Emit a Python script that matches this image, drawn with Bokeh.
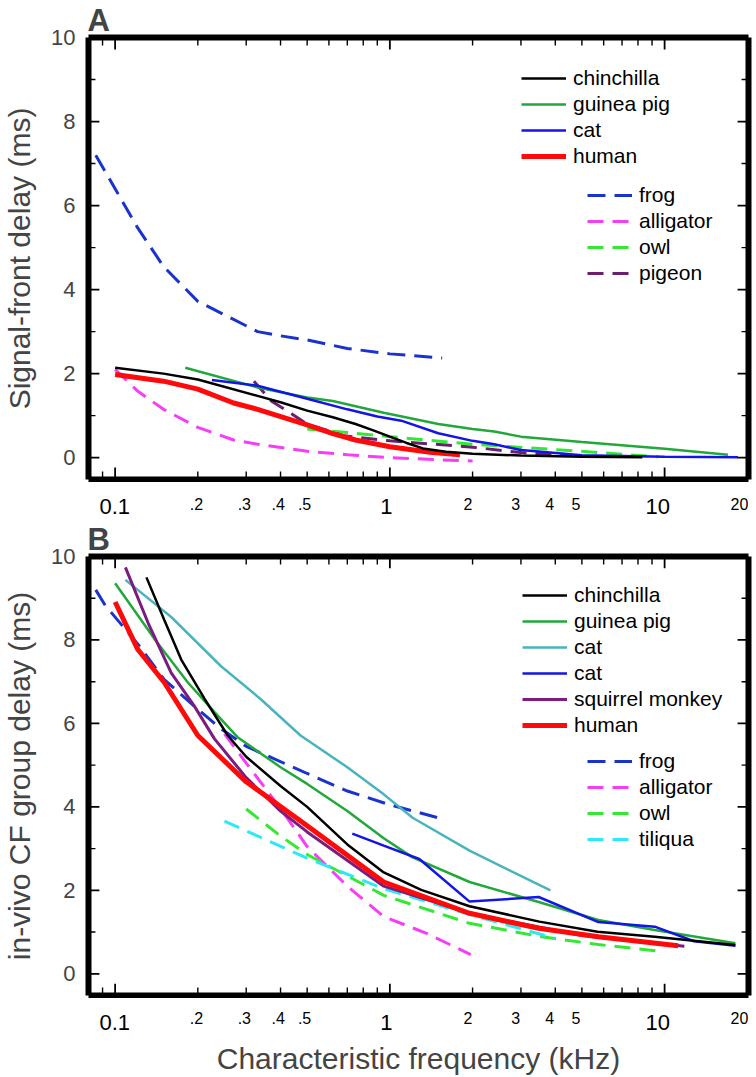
import math
from bokeh.plotting import figure
from bokeh.models import (Range1d, LogAxis, LinearAxis, FixedTicker, Legend, LegendItem,
                          CustomJSTickFormatter)
from bokeh.core.properties import value
from bokeh.layouts import column
from bokeh.embed import file_html
from bokeh.resources import INLINE

FONT = "Liberation Sans"
NAN = float("nan")

# ---------------- axis ranges / ticks / tick labels ----------------
X_LO, X_HI = 0.08, 20.2
Y_LO, Y_HI = -0.52, 10.0
X_MAJOR = [0.1, 1, 10]
X_MINOR = [0.09, 0.2, 0.3, 0.4, 0.5, 0.6, 0.7, 0.8, 0.9, 2, 3, 4, 5, 6, 7, 8, 9, 20]
X_BIG_TICKS = [0.1, 1, 10]
X_BIG_LABELS = ["0.1", "1", "10"]
X_SMALL_TICKS = [0.2, 0.3, 0.4, 0.5, 2, 3, 4, 5, 20]
X_SMALL_LABELS = [".2", ".3", ".4", ".5", "2", "3", "4", "5", "20"]
Y_MAJOR = [0, 2, 4, 6, 8, 10]
Y_MINOR = [1, 3, 5, 7, 9]

# ---------------- panel A: signal-front delay (ms) vs CF (kHz) ----------------
A_CHIN_F = [0.1, 0.15, 0.2, 0.33, 0.4, 0.5, 0.62, 0.75, 0.87, 1.0, 1.15, 1.32, 1.6, 2.0, 3.0, 5.0, 8.3]
A_CHIN_D = [2.14, 2.0, 1.86, 1.47, 1.32, 1.12, 0.96, 0.8, 0.65, 0.5, 0.35, 0.22, 0.14, 0.09, 0.05, 0.02, 0.01]
A_GP_F = [0.18, 0.33, 0.5, 0.62, 0.95, 1.5, 2.0, 2.4, 3.0, 5.0, 10.0, 17.0]
A_GP_D = [2.14, 1.67, 1.43, 1.35, 1.07, 0.8, 0.68, 0.62, 0.5, 0.37, 0.21, 0.07]
A_CAT_F = [0.225, 0.33, 0.5, 0.7, 0.9, 1.1, 1.5, 2.0, 2.4, 3.0, 5.0, 10.0, 18.5]
A_CAT_D = [1.85, 1.71, 1.4, 1.15, 0.98, 0.88, 0.58, 0.4, 0.32, 0.18, 0.06, 0.02, 0.01]
A_HUM_F = [0.1, 0.15, 0.2, 0.27, 0.33, 0.5, 0.62, 0.75, 1.0, 1.4, 1.8]
A_HUM_D = [1.98, 1.82, 1.63, 1.3, 1.15, 0.78, 0.57, 0.42, 0.26, 0.13, 0.07]
A_FROG_F = [0.085, 0.1, 0.12, 0.15, 0.2, 0.25, 0.33, 0.4, 0.5, 0.7, 1.0, 1.55]
A_FROG_D = [7.2, 6.4, 5.5, 4.55, 3.72, 3.4, 3.0, 2.9, 2.8, 2.6, 2.47, 2.37]
A_ALL_F = [0.1, 0.12, 0.15, 0.2, 0.27, 0.33, 0.5, 0.7, 1.0, 1.5, 2.0]
A_ALL_D = [2.1, 1.6, 1.15, 0.72, 0.42, 0.32, 0.15, 0.07, 0.0, -0.05, -0.08]
A_OWL_F = [0.5, 0.7, 1.0, 2.0, 4.5, 9.5]
A_OWL_D = [0.68, 0.6, 0.5, 0.32, 0.17, 0.02]
A_PIG_F = [0.32, 0.37, 0.44, 0.5, 0.68, 1.0, 2.0, 3.0, 4.6]
A_PIG_D = [1.82, 1.35, 1.04, 0.8, 0.52, 0.4, 0.25, 0.12, 0.05]

# ---------------- panel B: in-vivo CF group delay (ms) vs CF (kHz) ----------------
B_CHIN_F = [0.13, 0.151, 0.174, 0.212, 0.257, 0.3, 0.4, 0.5, 0.7, 0.95, 1.3, 1.95, 3.5, 5.7, 9.2, 18.1]
B_CHIN_D = [9.5, 8.48, 7.53, 6.58, 5.71, 5.2, 4.5, 4.0, 3.1, 2.43, 2.01, 1.62, 1.25, 1.01, 0.89, 0.69]
B_GP_F = [0.1, 0.14, 0.184, 0.23, 0.279, 0.4, 0.5, 0.7, 0.95, 1.21, 1.95, 3.48, 5.74, 9.2, 18.1]
B_GP_D = [9.36, 8.0, 6.98, 6.27, 5.67, 4.95, 4.55, 3.9, 3.25, 2.79, 2.2, 1.72, 1.29, 1.05, 0.73]
B_CAT1_F = [0.109, 0.16, 0.243, 0.339, 0.473, 0.7, 0.95, 1.21, 1.95, 3.84]
B_CAT1_D = [9.44, 8.55, 7.37, 6.58, 5.71, 4.95, 4.3, 3.74, 2.95, 2.0]
B_CAT2_F = [0.73, 0.95, 1.28, 1.95, 3.48, 5.74, 9.2, 12.8, 18.1]
B_CAT2_D = [3.36, 3.07, 2.75, 1.73, 1.84, 1.24, 1.13, 0.78, 0.67]
B_SM_F = [0.109, 0.132, 0.16, 0.194, 0.23, 0.3, 0.4, 0.5, 0.95, 2.0, 5.0, 11.8]
B_SM_D = [9.74, 8.4, 7.21, 6.42, 5.63, 4.7, 3.9, 3.4, 2.1, 1.43, 0.92, 0.66]
B_HUM_F = [0.1, 0.121, 0.151, 0.2, 0.3, 0.5, 0.95, 1.95, 3.48, 5.74, 11.2]
B_HUM_D = [8.91, 7.77, 6.98, 5.71, 4.6, 3.55, 2.2, 1.45, 1.09, 0.89, 0.67]
B_FROG_F = [0.085, 0.092, 0.121, 0.151, 0.2, 0.243, 0.3, 0.5, 0.7, 1.0, 1.58]
B_FROG_D = [9.2, 8.83, 7.9, 7.05, 6.34, 5.87, 5.45, 4.8, 4.38, 4.05, 3.7]
B_ALL_F = [0.25, 0.3, 0.4, 0.5, 0.7, 0.95, 1.36, 1.97]
B_ALL_D = [5.75, 5.05, 3.96, 3.05, 2.1, 1.37, 0.97, 0.46]
B_OWL_F = [0.3, 0.4, 0.5, 0.95, 1.95, 3.48, 5.74, 9.6]
B_OWL_D = [3.95, 3.3, 2.86, 1.88, 1.21, 0.9, 0.7, 0.54]
B_TIL_F = [0.25, 0.5, 0.95, 2.0, 4.0]
B_TIL_D = [3.66, 2.77, 2.04, 1.4, 0.85]

C_BLACK = "#000000"
C_GP = "#22a83a"
C_CAT = "#1414e6"
C_HUM = "#ff0a0a"
C_FROG = "#1a33cc"
C_ALL = "#f53ef5"
C_OWL = "#33e833"
C_PIG = "#6a1f70"
C_TEAL = "#4ab3bd"
C_SM = "#7b1c80"
C_TIL = "#2ee8f5"

FRAME_W, FRAME_H = 665, 444
PX_PER_DECADE = FRAME_W / (math.log10(X_HI) - math.log10(X_LO))
PX_PER_Y = FRAME_H / (Y_HI - Y_LO)
X_HI_EXT = 10 ** (math.log10(X_HI) + 8 / PX_PER_DECADE)   # strip frames run to the page edge


def frame_axis(ax):
    ax.axis_line_color = "black"
    ax.axis_line_width = 6
    ax.major_tick_in = 0
    ax.major_tick_out = 0
    ax.minor_tick_in = 0
    ax.minor_tick_out = 0
    ax.major_tick_line_color = None
    ax.minor_tick_line_color = None


def blank_labels(ax):
    ax.formatter = CustomJSTickFormatter(code="return '';")
    ax.major_label_text_font_size = "0px"
    ax.major_label_standoff = 0


def inward_ticks(p, ticks, side, length_px, width):
    """Tick marks pointing into the frame, one broken polyline per side."""
    xs, ys = [], []
    if side in ("bottom", "top"):
        y0 = Y_LO if side == "bottom" else Y_HI
        y1 = y0 + length_px / PX_PER_Y * (1 if side == "bottom" else -1)
        for t in ticks:
            xs += [t, t, NAN]
            ys += [y0, y1, NAN]
    else:
        x0 = X_LO if side == "left" else X_HI
        f = 10 ** (length_px / PX_PER_DECADE)
        x1 = x0 * f if side == "left" else x0 / f
        for t in ticks:
            xs += [x0, x1, NAN]
            ys += [t, t, NAN]
    p.line(xs, ys, line_color="black", line_width=width, line_cap="butt")


def make_panel(height, top, letter, ylabel):
    p = figure(width=756, height=height, x_axis_type="log", title=letter,
               x_range=Range1d(X_LO, X_HI), y_range=Range1d(Y_LO, Y_HI),
               output_backend="svg", toolbar_location=None,
               min_border_left=83, min_border_right=8,
               min_border_top=top, min_border_bottom=3)
    p.grid.visible = False
    p.outline_line_color = None
    p.background_fill_color = None
    p.border_fill_color = None

    p.title.text_font = FONT
    p.title.text_font_size = "31px"
    p.title.text_font_style = "bold"
    p.title.align = "left"
    p.title.standoff = 0
    p.title.offset = -1

    xa = p.xaxis[0]
    xa.ticker = FixedTicker(ticks=X_MAJOR, minor_ticks=X_MINOR)
    frame_axis(xa)
    blank_labels(xa)

    ya = p.yaxis[0]
    ya.ticker = FixedTicker(ticks=Y_MAJOR, minor_ticks=Y_MINOR)
    frame_axis(ya)
    ya.major_label_text_font = FONT
    ya.major_label_text_font_size = "22px"
    ya.major_label_standoff = 13
    ya.axis_label = ylabel
    ya.axis_label_text_font = FONT
    ya.axis_label_text_font_size = "30px"
    ya.axis_label_text_font_style = "normal"
    ya.axis_label_standoff = 12

    top_ax = LogAxis(ticker=FixedTicker(ticks=X_MAJOR, minor_ticks=X_MINOR))
    frame_axis(top_ax)
    blank_labels(top_ax)
    p.add_layout(top_ax, "above")
    right_ax = LinearAxis(ticker=FixedTicker(ticks=Y_MAJOR, minor_ticks=Y_MINOR))
    frame_axis(right_ax)
    blank_labels(right_ax)
    p.add_layout(right_ax, "right")

    # inward tick marks on all four sides of the frame
    for side in ("bottom", "top"):
        inward_ticks(p, X_MAJOR, side, 12, 1.8)
        inward_ticks(p, X_MINOR, side, 8, 1.4)
    for side in ("left", "right"):
        inward_ticks(p, Y_MAJOR, side, 11, 1.8)
        inward_ticks(p, Y_MINOR, side, 7, 1.4)
    return p


def tick_label_strip(height, frame_h, big_y, small_y, xlabel=None):
    s = figure(width=756, height=height, x_axis_type="log",
               x_range=Range1d(X_LO, X_HI_EXT), y_range=Range1d(0, frame_h),
               x_axis_location="below" if xlabel else None, y_axis_location=None,
               output_backend="svg", toolbar_location=None,
               min_border_left=83, min_border_right=0, min_border_top=0,
               min_border_bottom=height - frame_h)
    s.outline_line_color = None
    s.background_fill_color = None
    s.border_fill_color = None
    s.xgrid.visible = False
    s.ygrid.visible = False
    s.text(x=X_BIG_TICKS, y=big_y, text=X_BIG_LABELS, text_font=value(FONT),
           text_font_size="22px", text_align="center", text_baseline="middle",
           text_color="black")
    s.text(x=X_SMALL_TICKS, y=small_y, text=X_SMALL_LABELS, text_font=value(FONT),
           text_font_size="16px", text_align="center", text_baseline="middle",
           text_color="black")
    if xlabel:
        ax = s.xaxis[0]
        ax.ticker = FixedTicker(ticks=[])
        ax.axis_line_color = None
        ax.major_tick_line_color = None
        ax.minor_tick_line_color = None
        ax.major_tick_in = ax.major_tick_out = ax.minor_tick_in = ax.minor_tick_out = 0
        blank_labels(ax)
        ax.axis_label = xlabel
        ax.axis_label_text_font = FONT
        ax.axis_label_text_font_size = "30px"
        ax.axis_label_text_font_style = "normal"
        ax.axis_label_standoff = 3
    return s


def legend(items, loc):
    return Legend(items=items, location=loc, label_text_font=FONT, label_text_font_size="21px",
                  glyph_width=45, glyph_height=24, label_height=24, label_standoff=7,
                  spacing=2, padding=0, margin=0, border_line_color=None,
                  background_fill_alpha=0, label_text_color="black")


def line(p, f, d, color, width, dash="solid"):
    return p.line(f, d, line_color=color, line_width=width, line_dash=dash, line_cap="butt")


# ---------------- Panel A ----------------
pA = make_panel(482, 35, "A", "Signal-front delay (ms)")
rA_frog = line(pA, A_FROG_F, A_FROG_D, C_FROG, 3, "18 9")
rA_all = line(pA, A_ALL_F, A_ALL_D, C_ALL, 3, "16 9")
rA_owl = line(pA, A_OWL_F, A_OWL_D, C_OWL, 3, "16 9")
rA_pig = line(pA, A_PIG_F, A_PIG_D, C_PIG, 3, "16 9")
rA_gp = line(pA, A_GP_F, A_GP_D, C_GP, 2.5)
rA_cat = line(pA, A_CAT_F, A_CAT_D, C_CAT, 2.5)
rA_hum = line(pA, A_HUM_F, A_HUM_D, C_HUM, 5)
rA_chin = line(pA, A_CHIN_F, A_CHIN_D, C_BLACK, 2.5)

pA.add_layout(legend([LegendItem(label="chinchilla", renderers=[rA_chin]),
                      LegendItem(label="guinea pig", renderers=[rA_gp]),
                      LegendItem(label="cat", renderers=[rA_cat]),
                      LegendItem(label="human", renderers=[rA_hum])], (433, 311)))
pA.add_layout(legend([LegendItem(label="frog", renderers=[rA_frog]),
                      LegendItem(label="alligator", renderers=[rA_all]),
                      LegendItem(label="owl", renderers=[rA_owl]),
                      LegendItem(label="pigeon", renderers=[rA_pig])], (499, 194)))

sA = tick_label_strip(37, 37, 13.5, 15.5)

# ---------------- Panel B ----------------
pB = make_panel(479, 35, "B", "in-vivo CF group delay (ms)")
rB_frog = line(pB, B_FROG_F, B_FROG_D, C_FROG, 3, "18 9")
rB_all = line(pB, B_ALL_F, B_ALL_D, C_ALL, 3, "16 9")
rB_owl = line(pB, B_OWL_F, B_OWL_D, C_OWL, 3, "16 9")
rB_til = line(pB, B_TIL_F, B_TIL_D, C_TIL, 3, "16 9")
rB_cat1 = line(pB, B_CAT1_F, B_CAT1_D, C_TEAL, 2.5)
rB_gp = line(pB, B_GP_F, B_GP_D, C_GP, 2.5)
rB_cat2 = line(pB, B_CAT2_F, B_CAT2_D, C_CAT, 2.5)
rB_sm = line(pB, B_SM_F, B_SM_D, C_SM, 3)
rB_hum = line(pB, B_HUM_F, B_HUM_D, C_HUM, 5)
rB_chin = line(pB, B_CHIN_F, B_CHIN_D, C_BLACK, 2.5)

pB.add_layout(legend([LegendItem(label="chinchilla", renderers=[rB_chin]),
                      LegendItem(label="guinea pig", renderers=[rB_gp]),
                      LegendItem(label="cat", renderers=[rB_cat1]),
                      LegendItem(label="cat", renderers=[rB_cat2]),
                      LegendItem(label="squirrel monkey", renderers=[rB_sm]),
                      LegendItem(label="human", renderers=[rB_hum])], (434, 258)))
pB.add_layout(legend([LegendItem(label="frog", renderers=[rB_frog]),
                      LegendItem(label="alligator", renderers=[rB_all]),
                      LegendItem(label="owl", renderers=[rB_owl]),
                      LegendItem(label="tiliqua", renderers=[rB_til])], (499, 144)))

sB = tick_label_strip(79, 44, 17.8, 22.5, "Characteristic frequency (kHz)")

layout = column(pA, sA, pB, sB)
open("out.html", "w").write(file_html(layout, INLINE))
